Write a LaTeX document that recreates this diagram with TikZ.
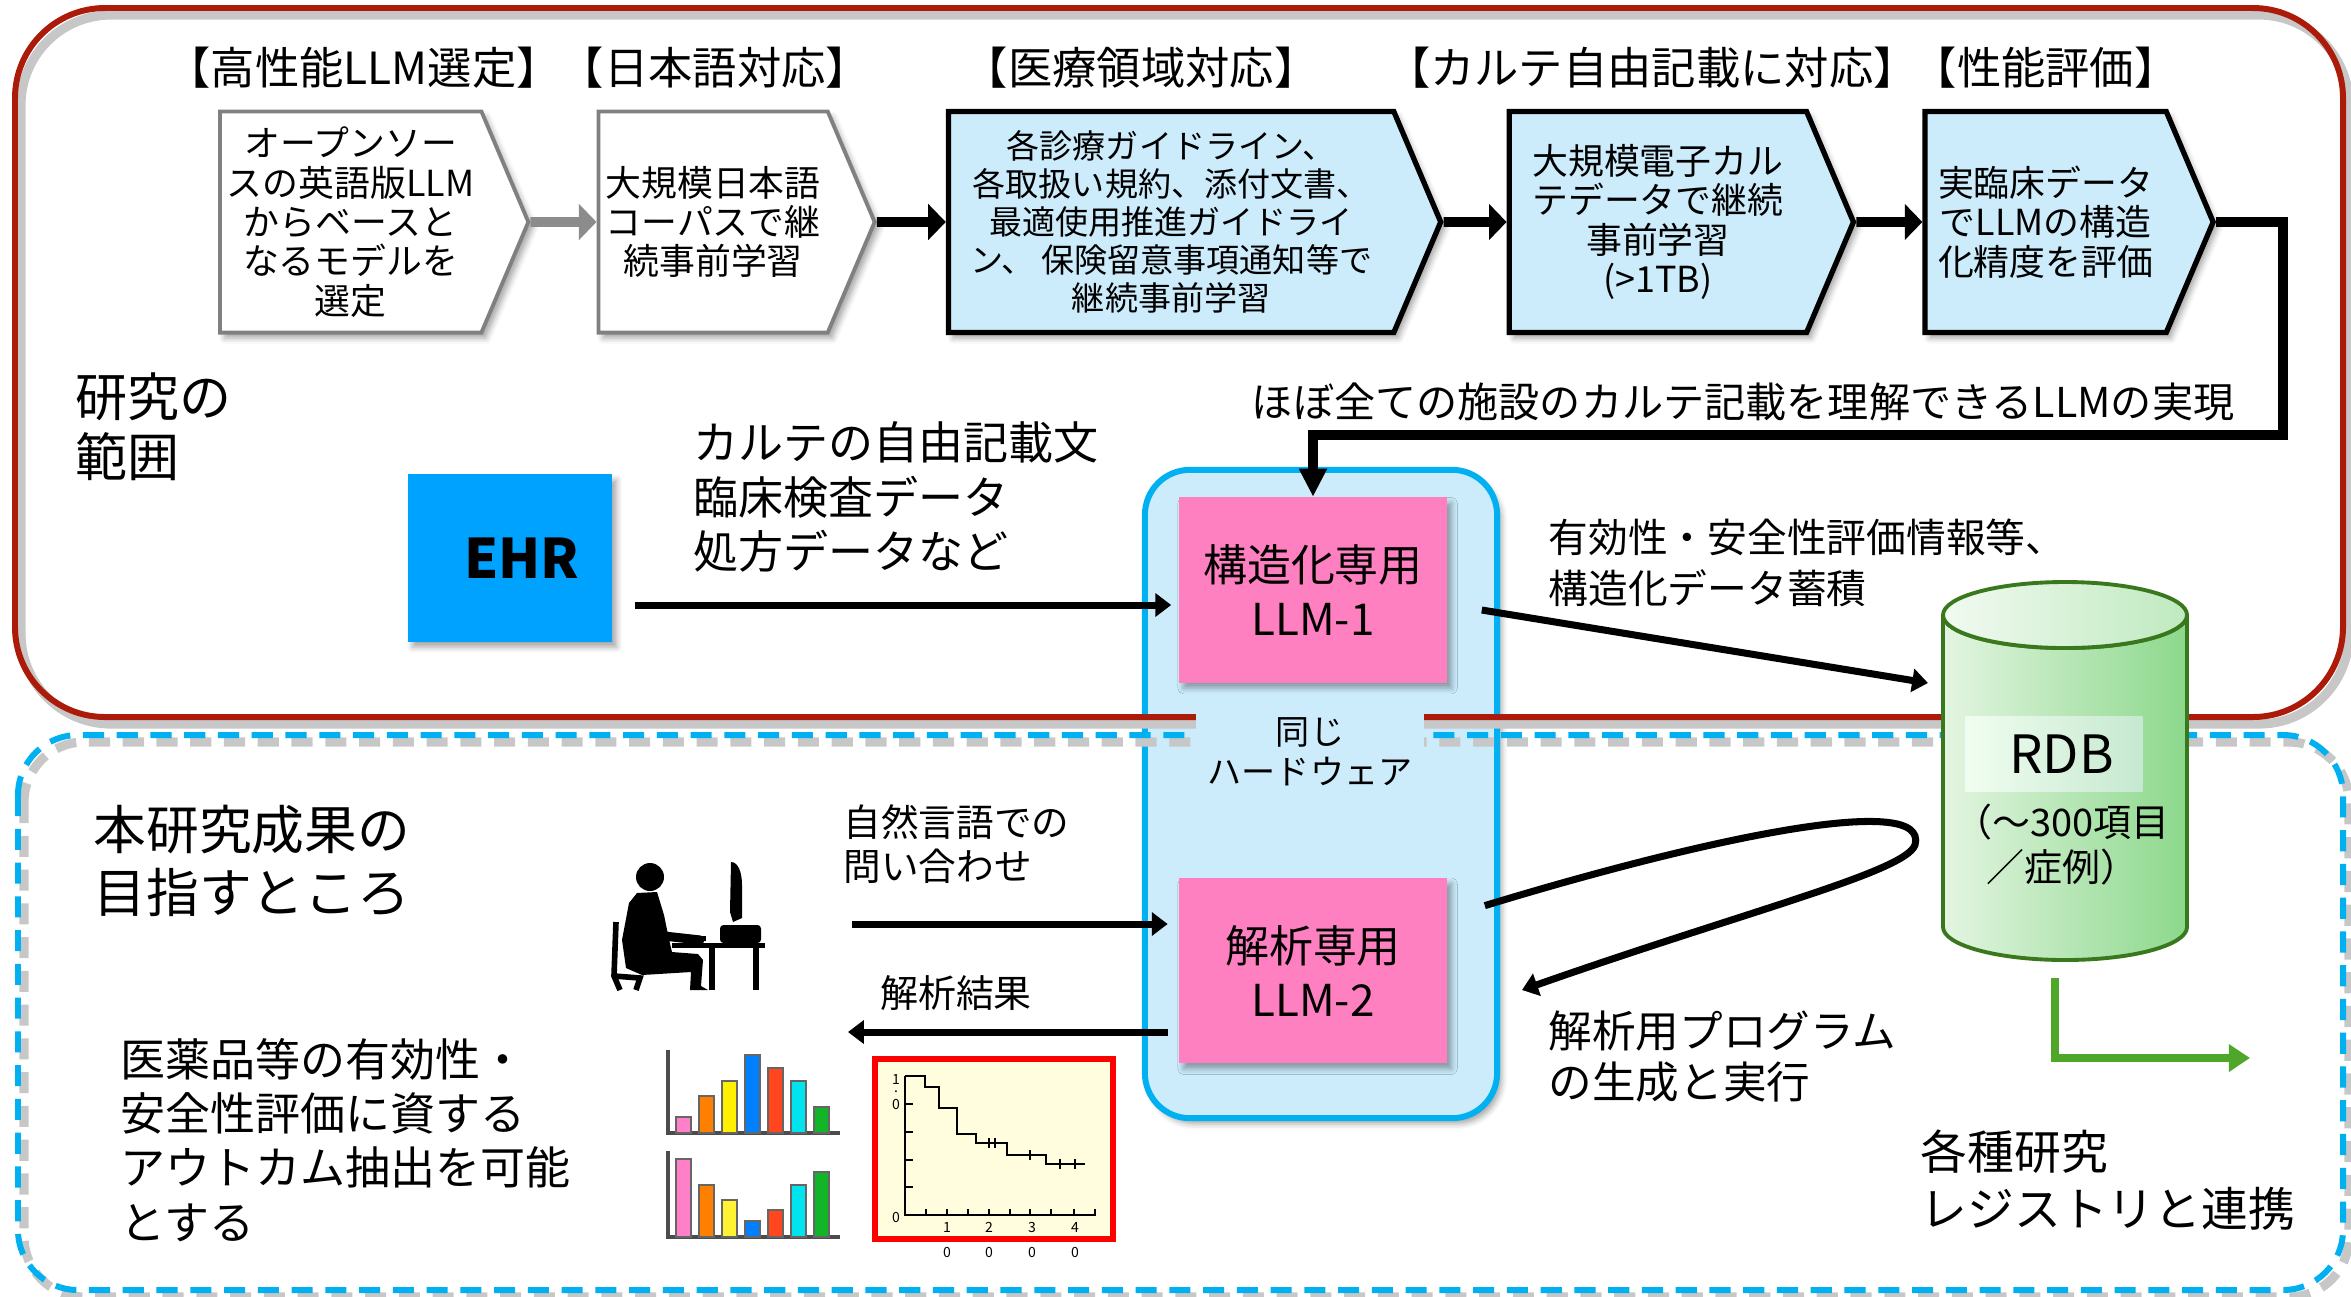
\documentclass[tikz,border=0pt]{standalone}
\usepackage{fontspec}
\setmainfont{Noto Sans CJK JP}
\usetikzlibrary{arrows.meta, positioning, calc, shapes.symbols, shadows.blur}

\definecolor{frameRed}{RGB}{172,26,10}
\definecolor{frameBlue}{RGB}{0,176,240}
\definecolor{paleBlue}{RGB}{204,236,252}
\definecolor{llmPink}{RGB}{255,128,192}
\definecolor{ehrBlue}{RGB}{0,162,255}
\definecolor{rdbLeft}{RGB}{228,245,226}
\definecolor{rdbRight}{RGB}{140,216,140}
\definecolor{rdbEdge}{RGB}{58,120,30}
\definecolor{regGreen}{RGB}{78,167,40}
\definecolor{chartBg}{RGB}{255,253,222}
\definecolor{barPink}{RGB}{255,128,200}
\definecolor{barOrange}{RGB}{255,128,0}
\definecolor{barYellow}{RGB}{255,240,0}
\definecolor{barBlue}{RGB}{0,128,255}
\definecolor{barRed}{RGB}{255,70,30}
\definecolor{barCyan}{RGB}{0,228,240}
\definecolor{barGreen}{RGB}{20,180,40}

\begin{document}
\begin{tikzpicture}[
    x=0.01cm, y=-0.01cm,
    softshadow/.style={blur shadow={shadow xshift=1.3pt, shadow yshift=-1.6pt,
                       shadow blur radius=1.6pt, shadow opacity=35}},
    stepbox/.style={shape=signal, signal to=east, signal pointer angle=134,
                    draw=black, line width=1.5pt, fill=paleBlue, softshadow,
                    minimum height=2.21cm, inner sep=2pt, align=center,
                    font=\fontsize{10.2}{11.2}\selectfont},
    stepgray/.style={stepbox, draw=black!50, line width=1.1pt, fill=white},
    steptitle/.style={inner sep=0pt, font=\fontsize{12.6}{14}\selectfont},
    llm/.style={rectangle, fill=llmPink, softshadow, minimum width=2.68cm,
                minimum height=1.85cm, align=center,
                font=\fontsize{12.5}{15.4}\selectfont},
    txt/.style={inner sep=0pt, anchor=west, align=left},
    flow/.style={line width=2.8pt, -{Triangle[length=5pt, width=10pt]}},
    link/.style={line width=2pt, -{Triangle[length=4.5pt, width=6.5pt]}},
    tiny/.style={inner sep=0pt, font=\fontsize{4}{5}\selectfont}
]
\useasboundingbox (0,0) rectangle (2351,1296);

% hardware shared by both models
\node[draw=frameBlue, line width=1.7pt, fill=paleBlue, rounded corners=0.45cm,
      minimum width=3.52cm, minimum height=6.48cm, softshadow] (hw) at (1321,794) {};

% scope and goal frames
\draw[black!22, line width=2.6pt, rounded corners=0.9cm] (21,15) rectangle (2349,724);
\draw[frameRed, line width=1.7pt, rounded corners=0.9cm] (15,8) rectangle (2343,717);
\draw[black!22, line width=2.6pt, dash pattern=on 6pt off 3.6pt, rounded corners=0.6cm] (24,742) rectangle (2349,1297);
\draw[frameBlue, line width=1.7pt, dash pattern=on 6pt off 3.6pt, rounded corners=0.6cm] (18,735) rectangle (2343,1290);

\node[fill=paleBlue, minimum width=2.17cm, minimum height=0.92cm, align=center,
      font=\fontsize{9.7}{11.4}\selectfont] (same) at (1310,752) {同じ\\ハードウェア};

% pre-training steps
\node[stepgray, minimum width=3.07cm, anchor=west] (s1) at (218,222)
    {オープンソー\\スの英語版LLM\\からベースと\\なるモデルを\\選定};
\node[stepgray, minimum width=2.76cm, right=0.66cm of s1] (s2)
    {大規模日本語\\コーパスで継\\続事前学習};
\node[stepbox, minimum width=4.92cm, right=0.69cm of s2, font=\fontsize{9.4}{10.8}\selectfont] (s3)
    {各診療ガイドライン、\\各取扱い規約、添付文書、\\最適使用推進ガイドライ\\ン、 保険留意事項通知等で\\継続事前学習};
\node[stepbox, minimum width=3.44cm, right=0.63cm of s3] (s4)
    {大規模電子カル\\テデータで継続\\事前学習\\(>1TB)};
\node[stepbox, minimum width=2.88cm, right=0.66cm of s4] (s5)
    {実臨床データ\\でLLMの構造\\化精度を評価};

\node[steptitle, above=0.2cm of s1, xshift=0.13cm] (t1) {【高性能LLM選定】};
\node[steptitle, above=0.2cm of s2, xshift=0.02cm] (t2) {【日本語対応】};
\node[steptitle, above=0.2cm of s3, xshift=-0.30cm] (t3) {【医療領域対応】};
\node[steptitle, above=0.2cm of s4, xshift=-0.06cm] (t4) {【カルテ自由記載に対応】};
\node[steptitle, above=0.2cm of s5] (t5) {【性能評価】};

\draw[flow, draw=black!45] (s1) -- (s2);
\draw[flow] (s2) -- (s3);
\draw[flow] (s3) -- (s4);
\draw[flow] (s4) -- (s5);

% models
\node[llm] (llm1) at (1313,590) {構造化専用\\LLM-1};
\node[llm, below=1.94cm of llm1] (llm2) {解析専用\\LLM-2};

\coordinate (turn) at (2283,435);
\draw[line width=2.6pt, -{Triangle[length=8pt, width=7.5pt]}] (s5.east) -| (turn) -| (llm1.north);
\node[inner sep=0pt, anchor=east, font=\fontsize{11.7}{13}\selectfont] (goal) at (2235,402)
    {ほぼ全ての施設のカルテ記載を理解できるLLMの実現};

\node[txt, font=\fontsize{14.8}{17}\selectfont] (range) at (75,427) {研究の\\範囲};

\node[fill=ehrBlue, softshadow, minimum width=2.04cm, minimum height=1.67cm,
      font=\bfseries\fontsize{15.5}{18}\selectfont] (ehr) at (510,558) {\hspace{0.24cm}EHR};
\node[txt, font=\fontsize{12.8}{15.6}\selectfont] (ehrdata) at (693,497)
    {カルテの自由記載文\\臨床検査データ\\処方データなど};
\coordinate (ehrout) at (635,605);
\draw[link, shorten >=2pt] (ehrout) -- (ehrout -| llm1.west);

% relational database drum
\shadedraw[left color=rdbLeft, right color=rdbRight, draw=rdbEdge, line width=1.1pt]
    (1943,615) -- (1943,927) arc[start angle=180, end angle=0, x radius=122, y radius=33]
    -- (2187,615) arc[start angle=0, end angle=180, x radius=122, y radius=33] -- cycle;
\shadedraw[left color=rdbLeft!50!white, right color=rdbRight!55!white, draw=rdbEdge, line width=1.1pt]
    (2065,615) ellipse[x radius=122, y radius=33];
\node[inner sep=0pt, minimum width=1.77cm, minimum height=0.75cm,
      left color=rdbLeft!80!green!20, right color=rdbRight!80!teal!40,
      font=\fontsize{15}{18}\selectfont] (rdb) at (2054,754) {\hspace{0.15cm}RDB};
\node[inner sep=0pt, align=center, font=\fontsize{10.8}{12.8}\selectfont] (rdbnote) at (2062,845)
    {（～300項目\\／症例）};

\coordinate (rdbin) at (1928,683);
\draw[link] ($(llm1.east)+(34,20)$) -- (rdbin);
\node[txt, font=\fontsize{11.3}{14.5}\selectfont] (stored) at (1548,563)
    {有効性・安全性評価情報等、\\構造化データ蓄積};

\coordinate (prog) at (1522,990);
\draw[link] ($(llm2.east)+(37,-65)$) .. controls (1700,840) and (1930,790) .. (1915,845)
    .. controls (1905,872) and (1750,910) .. (prog);
\node[txt, font=\fontsize{12.4}{14.5}\selectfont] (progtxt) at (1548,1057)
    {解析用プログラム\\の生成と実行};

\coordinate (rdbbot) at (2055,978);
\coordinate (reglink) at (2250,1058);
\draw[regGreen, line width=2.3pt, -{Triangle[length=6pt, width=7.5pt]}] (rdbbot) |- (reglink);
\node[txt, font=\fontsize{13.3}{16}\selectfont] (registry) at (1920,1180)
    {各種研究\\レジストリと連携};

% goal side
\node[txt, font=\fontsize{15}{18}\selectfont] (aim) at (93,861) {本研究成果の\\目指すところ};
\node[txt, font=\fontsize{12.8}{15.4}\selectfont] (outcome) at (120,1140)
    {医薬品等の有効性・\\安全性評価に資する\\アウトカム抽出を可能\\とする};

% user at the desk
\fill (650,877) circle[radius=14];
\fill (629,903) -- (637,893) -- (657,892) -- (664,915) -- (668,935) -- (672,952) -- (698,954)
    -- (703,960) -- (701,986) -- (708,990) -- (690,990) -- (691,972) -- (642,975) -- (626,968)
    -- (622,940) -- cycle;
\draw[line width=2.6pt, line cap=round, line join=round] (653,902) -- (664,936) -- (700,940);
\draw[line width=1.6pt] (616,922) -- (614,976) -- (620,990) (614,976) -- (640,978) -- (636,990);
\fill (672,943) rectangle (765,948);
\draw[line width=1.5pt] (712,948) -- (712,990) (756,948) -- (756,990);
\fill (676,936) rectangle (706,941);
\fill (731,862) .. controls (738,862) and (742,872) .. (742,885) -- (742,918) -- (733,922) -- (730,912) -- cycle;
\fill[rounded corners=1pt] (720,925) rectangle (761,943);

\coordinate (ask) at (852,924);
\draw[link, shorten >=3pt] (ask) -- (ask -| llm2.west);
\node[txt, font=\fontsize{10.7}{12.5}\selectfont] (asktxt) at (843,844) {自然言語での\\問い合わせ};

\coordinate (res) at (848,1032);
\draw[link, shorten <=3pt] (res -| llm2.west) -- (res);
\node[inner sep=0pt, font=\fontsize{10.8}{13}\selectfont] (restxt) at (956,993) {解析結果};

% bar charts
\draw[black!70, line width=0.9pt] (668,1050) -- (668,1133) -- (840,1133);
\foreach \x/\h/\c in {676/1117/barPink, 699/1096/barOrange, 722/1081/barYellow, 745/1055/barBlue,
                      768/1068/barRed, 791/1081/barCyan, 814/1107/barGreen}
  \filldraw[fill=\c, draw=black!60, line width=0.4pt] (\x,\h) rectangle ({\x+15},1133);
\draw[black!70, line width=0.9pt] (668,1151) -- (668,1237) -- (840,1237);
\foreach \x/\h/\c in {676/1159/barPink, 699/1185/barOrange, 722/1200/barYellow!80, 745/1221/barBlue,
                      768/1210/barRed, 791/1185/barCyan, 814/1172/barGreen}
  \filldraw[fill=\c, draw=black!60, line width=0.4pt] (\x,\h) rectangle ({\x+15},1237);

% survival curve
\node[draw=red, line width=1.6pt, fill=chartBg, minimum width=2.38cm, minimum height=1.8cm] (km) at (994,1149) {};
\draw[line width=0.5pt] (905,1076) -- (905,1215) -- (1096,1215);
\foreach \x in {926,947,968,989,1010,1030,1051,1074,1095}
  \draw[line width=0.5pt] (\x,1215) -- (\x,1209);
\foreach \y in {1104,1132,1160,1187}
  \draw[line width=0.5pt] (905,\y) -- (913,\y);
\draw[line width=0.8pt] (905,1076) -| (925,1087) -| (939,1108) -| (957,1134) -| (976,1143)
    -| (1007,1155) -| (1046,1164) -- (1085,1164);
\foreach \x/\y in {989/1143, 995/1143, 1030/1155, 1060/1164, 1075/1164}
  \draw[line width=0.5pt] (\x,\y-5) -- (\x,\y+5);
\node[tiny] (ky1) at (896,1079) {1};
\node[tiny] (kyd) at (896,1092) {.};
\node[tiny] (ky0) at (896,1104) {0};
\node[tiny] (kyb) at (896,1217) {0};
\foreach \x/\n in {947/1, 989/2, 1032/3, 1075/4} {
  \node[tiny] (kx\n) at (\x,1227) {\n};
  \node[tiny] (kz\n) at (\x,1252) {0};
}
\end{tikzpicture}
\end{document}
